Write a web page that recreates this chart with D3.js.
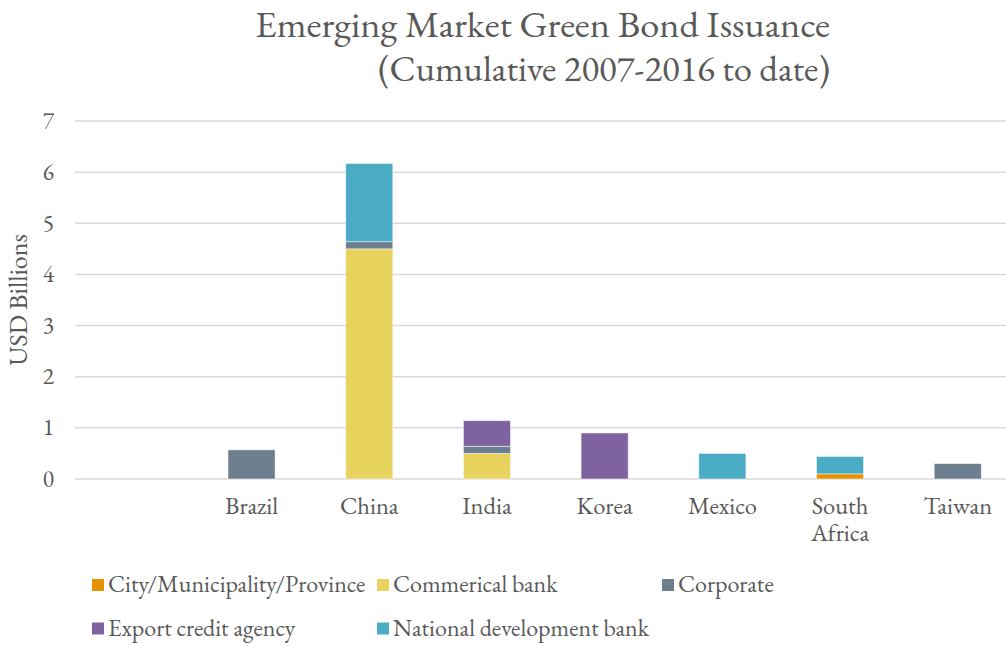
<!DOCTYPE html>
<html><head><meta charset="utf-8">
<script src="https://cdn.jsdelivr.net/npm/d3@7"></script>
</head><body style="margin:0;background:#fff">
<svg id="c" width="1006" height="646" style="display:block;font-family:'EB Garamond','Liberation Serif',serif"></svg>
<script>
const categories = ["", "Brazil", "China", "India", "Korea", "Mexico", "South Africa", "Taiwan"];
const seriesNames = ["City/Municipality/Province", "Commerical bank", "Corporate", "Export credit agency", "National development bank"];
const cityValues       = [0, 0,    0,    0,    0,   0,   0.10, 0];
const commercialValues = [0, 0,    4.50, 0.50, 0,   0,   0,    0];
const corporateValues  = [0, 0.57, 0.14, 0.14, 0,   0,   0,    0.30];
const exportValues     = [0, 0,    0,    0.50, 0.90,0,   0,    0];
const nationalValues   = [0, 0,    1.53, 0,    0,   0.50,0.34, 0];
const yTicks = [0,1,2,3,4,5,6,7];
const colors = ["#E59100", "#E8D35F", "#6D7E8E", "#7F63A1", "#4AABC5"];

const FONT = "'EB Garamond','Liberation Serif',serif";
const TXT = "#595959";
const allSeries = [cityValues, commercialValues, corporateValues, exportValues, nationalValues];
const rows = categories.map((c,i)=>{const r={cat:c}; seriesNames.forEach((s,j)=>r[s]=allSeries[j][i]); return r;});
const stack = d3.stack().keys(seriesNames)(rows);

const svg = d3.select("#c");
const x = d3.scaleBand().domain(categories).range([75, 1016.6]).paddingInner(0.6).paddingOuter(0.3);
const y = d3.scaleLinear().domain([0,7]).range([479, 121]);

svg.append("g").selectAll("line").data(yTicks).join("line")
  .attr("x1",75).attr("x2",1006).attr("y1",d=>y(d)).attr("y2",d=>y(d))
  .attr("stroke","#D9D9D9").attr("stroke-width",1.5);
svg.append("g").selectAll("text").data(yTicks).join("text")
  .attr("x",54).attr("y",d=>y(d)+7.5).attr("text-anchor","end")
  .style("font-family",FONT).attr("font-size",23.5).attr("fill",TXT).text(d=>d);

svg.append("g").selectAll("g").data(stack).join("g").attr("fill",(d,i)=>colors[i])
  .selectAll("rect").data(d=>d.filter(p=>p[1]-p[0]>0)).join("rect")
  .attr("x",d=>x(d.data.cat)).attr("width",x.bandwidth())
  .attr("y",d=>y(d[1])).attr("height",d=>y(d[0])-y(d[1]))
  .attr("stroke","rgba(255,255,255,0.6)").attr("stroke-width",0.8);

const xl = svg.append("g").selectAll("text").data(categories.filter(c=>c)).join("text")
  .attr("x",d=>x(d)+x.bandwidth()/2).attr("y",514).attr("text-anchor","middle")
  .style("font-family",FONT).attr("font-size",24.5).attr("fill",TXT);
xl.each(function(d){
  const t = d3.select(this);
  d.split(" ").forEach((w,i)=>t.append("tspan").attr("x",x(d)+x.bandwidth()/2).attr("dy",i?27:0).text(w));
});

svg.append("text").attr("transform","translate(27,300) rotate(-90)").attr("text-anchor","middle")
  .style("font-family",FONT).attr("font-size",26).attr("fill",TXT).text("USD Billions");

svg.append("text").attr("x",830).attr("y",37).attr("text-anchor","end")
  .style("font-family",FONT).attr("font-size",37).attr("fill",TXT)
  .attr("textLength",575).attr("lengthAdjust","spacingAndGlyphs").text("Emerging Market Green Bond Issuance");
svg.append("text").attr("x",830).attr("y",81).attr("text-anchor","end")
  .style("font-family",FONT).attr("font-size",37).attr("fill",TXT)
  .attr("textLength",452).attr("lengthAdjust","spacingAndGlyphs").text("(Cumulative 2007-2016 to date)");

const legPos = [[92,585],[377,585],[662,585],[92,628.5],[377,628.5]];
const lg = svg.append("g").selectAll("g").data(seriesNames).join("g")
  .attr("transform",(d,i)=>`translate(${legPos[i][0]},${legPos[i][1]})`);
lg.append("rect").attr("x",0).attr("y",-6).attr("width",12).attr("height",12).attr("fill",(d,i)=>colors[i]);
lg.append("text").attr("x",16).attr("y",7).style("font-family",FONT).attr("font-size",24).attr("fill",TXT).text(d=>d);
</script></body></html>
